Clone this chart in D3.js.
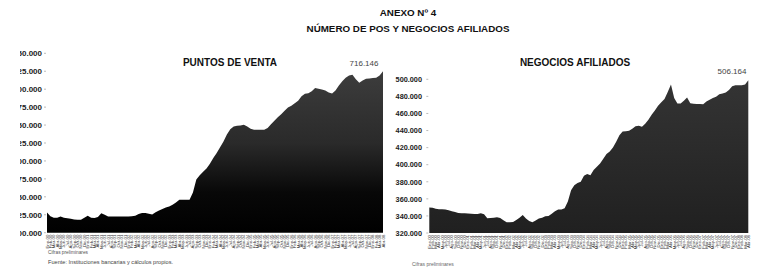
<!DOCTYPE html>
<html>
<head>
<meta charset="utf-8">
<script src="https://cdn.jsdelivr.net/npm/d3@7"></script>
<style>
    body { margin: 0; background: #fff; }
    svg { display: block; font-family: "Liberation Sans", Arial, sans-serif; }
</style>
</head>
<body>
<svg width="778" height="267"></svg>
<script>
// categorias: meses (etiquetas del eje x)
const mesesCortos = ["Ene", "Feb", "Mar", "Abr", "May", "Jun", "Jul", "Ago", "Sep", "Oct", "Nov", "Dic"];
const anios = ["00", "01", "02", "03", "04", "05", "06", "07", "08"];
const meses = [];
for (const a of anios) {
    for (const m of mesesCortos) {
        if (meses.length < 100) meses.push(m + "-" + a);
    }
}

const puntosVenta = [
    528000, 523000, 521000, 521000, 522500, 521000, 520000, 519500, 518500, 518000,
    518000, 521000, 523500, 521000, 520500, 522000, 527000, 525000, 522500, 522500,
    522500, 522500, 522500, 522500, 522500, 523000, 523500, 526000, 527500, 527500,
    526500, 525500, 528500, 531000, 533000, 535000, 536500, 539000, 542000, 546000,
    546000, 546000, 546000, 556000, 574000, 580000, 585000, 589500, 596000, 604000,
    611000, 619000, 627000, 637000, 644000, 648000, 649000, 649500, 650500, 648000,
    645000, 643500, 643500, 643500, 643500, 646000, 651000, 656000, 661000, 665000,
    670000, 674500, 677000, 680500, 684000, 690000, 693500, 694500, 697000, 701500,
    700500, 699500, 698000, 695500, 694000, 698000, 705000, 711000, 716000, 719000,
    720000, 714000, 709000, 712000, 714500, 715000, 715500, 716000, 719000, 725000
];

const negociosAfiliados = [
    350000, 349500, 348500, 347700, 347700, 347500, 346500, 345500, 344500, 343300,
    343000, 343000, 342800, 342500, 342300, 342200, 343000, 342000, 337200, 337500,
    338000, 338400, 337500, 335000, 332500, 332500, 333000, 335200, 338000, 341100,
    337000, 334000, 332500, 334500, 337000, 338000, 339500, 340000, 342500, 345500,
    347500, 347500, 349000, 357000, 370000, 376000, 378500, 380000, 387000, 389000,
    387500, 393700, 397500, 401500, 407000, 412500, 415500, 420000, 427000, 434500,
    439000, 439300, 439700, 442000, 445000, 445500, 444300, 448000, 452500, 458500,
    463500, 469000, 473000, 477000, 485000, 494000, 478000, 471700, 471700, 475000,
    478700, 472000, 471500, 471000, 471000, 470900, 474000, 476000, 478000, 479700,
    482500, 483500, 484500, 487500, 492000, 493100, 493100, 493100, 494000, 499000
];

const ticksPuntos = [500000, 525000, 550000, 575000, 600000, 625000, 650000, 675000, 700000, 725000, 750000];
const ticksNegocios = [320000, 340000, 360000, 380000, 400000, 420000, 440000, 460000, 480000, 500000];

const ultimoPuntos = "716.146";
const ultimoNegocios = "506.164";

const svg = d3.select("svg");
const fmt = d3.formatLocale({ decimal: ",", thousands: ".", grouping: [3], currency: ["$", ""] }).format(",d");

// degradados del area
const defs = svg.append("defs");
const grad1 = defs.append("linearGradient")
    .attr("id", "gradPuntos")
    .attr("gradientUnits", "userSpaceOnUse")
    .attr("x1", 0).attr("y1", 70).attr("x2", 0).attr("y2", 233);
grad1.append("stop").attr("offset", 0).attr("stop-color", "#3d3d3d");
grad1.append("stop").attr("offset", 0.45).attr("stop-color", "#2a2a2a");
grad1.append("stop").attr("offset", 0.75).attr("stop-color", "#080808");
grad1.append("stop").attr("offset", 1).attr("stop-color", "#000");

const grad2 = defs.append("linearGradient")
    .attr("id", "gradNegocios")
    .attr("gradientUnits", "userSpaceOnUse")
    .attr("x1", 0).attr("y1", 80).attr("x2", 0).attr("y2", 233);
grad2.append("stop").attr("offset", 0).attr("stop-color", "#343434");
grad2.append("stop").attr("offset", 1).attr("stop-color", "#202020");

defs.append("clipPath").attr("id", "recorte")
    .append("rect").attr("x", 20).attr("y", 0).attr("width", 60).attr("height", 267);

// titulos
svg.append("text")
    .attr("x", 408).attr("y", 16)
    .attr("text-anchor", "middle")
    .attr("font-size", 9.8).attr("font-weight", "bold").attr("fill", "#111")
    .text("ANEXO Nº 4");
svg.append("text")
    .attr("x", 408).attr("y", 32)
    .attr("text-anchor", "middle")
    .attr("font-size", 9.8).attr("font-weight", "bold").attr("fill", "#111")
    .text("NÚMERO DE POS Y NEGOCIOS AFILIADOS");

function drawPanel(opts) {
    const x = d3.scalePoint().domain(meses).range([opts.x0, opts.x1]);
    const y = d3.scaleLinear().domain(opts.domain).range([opts.bottom, opts.top]);
    const g = svg.append("g");

    const area = d3.area()
        .x((d, i) => x(meses[i]))
        .y0(opts.bottom)
        .y1(d => y(d));

    g.append("path")
        .datum(opts.values)
        .attr("d", area)
        .attr("fill", opts.fill);

    // eje y
    const ejeY = g.append("g");
    if (opts.clip) ejeY.attr("clip-path", "url(#recorte)");
    for (const t of opts.ticks) {
        ejeY.append("text")
            .attr("x", opts.labelX)
            .attr("y", y(t) + 2.8)
            .attr("text-anchor", "end")
            .attr("font-size", opts.labelSize).attr("font-weight", "bold").attr("fill", "#222")
            .text(fmt(t));
        g.append("line")
            .attr("x1", opts.x0 - 3).attr("x2", opts.x0 - 1)
            .attr("y1", y(t)).attr("y2", y(t))
            .attr("stroke", "#aaa").attr("stroke-width", 0.8);
    }

    // eje x: meses rotados
    g.selectAll(".mes")
        .data(meses)
        .enter()
        .append("text")
        .attr("transform", d => `translate(${x(d) + 1.5},${opts.bottom + 2}) rotate(-90)`)
        .attr("text-anchor", "end")
        .attr("font-size", 4.3).attr("fill", "#333")
        .text(d => d);

    g.append("text")
        .attr("x", opts.titleX).attr("y", 65.5)
        .attr("text-anchor", "middle")
        .attr("font-size", 10).attr("font-weight", "bold").attr("fill", "#111")
        .text(opts.title);

    g.append("text")
        .attr("x", opts.lastX).attr("y", opts.lastY)
        .attr("text-anchor", "middle")
        .attr("font-size", 8).attr("fill", "#444")
        .text(opts.last);
}

drawPanel({
    values: puntosVenta, ticks: ticksPuntos, domain: [500000, 750000],
    x0: 47, x1: 383, top: 53.3, bottom: 232.7,
    labelX: 42, labelSize: 8, clip: true, fill: "url(#gradPuntos)",
    title: "PUNTOS DE VENTA", titleX: 230,
    last: ultimoPuntos, lastX: 364, lastY: 66
});

drawPanel({
    values: negociosAfiliados, ticks: ticksNegocios, domain: [320000, 500000],
    x0: 429.3, x1: 748.3, top: 79.3, bottom: 233,
    labelX: 422, labelSize: 7.3, clip: false, fill: "url(#gradNegocios)",
    title: "NEGOCIOS AFILIADOS", titleX: 575,
    last: ultimoNegocios, lastX: 732, lastY: 73.5
});

// notas al pie
svg.append("text")
    .attr("x", 48).attr("y", 254)
    .attr("font-size", 4.8).attr("fill", "#555")
    .text("Cifras preliminares");
svg.append("text")
    .attr("x", 48).attr("y", 263.5)
    .attr("font-size", 5.6).attr("fill", "#444")
    .text("Fuente: Instituciones bancarias y cálculos propios.");
svg.append("text")
    .attr("x", 412).attr("y", 265.5)
    .attr("font-size", 5).attr("fill", "#666")
    .text("Cifras preliminares");
</script>
</body>
</html>
